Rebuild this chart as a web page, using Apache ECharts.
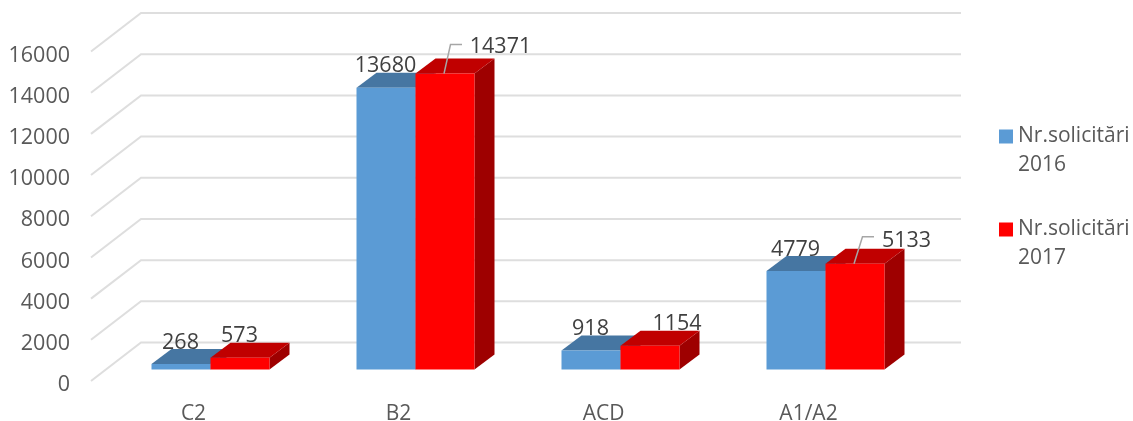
<!DOCTYPE html>
<html>
<head>
<meta charset="utf-8">
<style>html,body{margin:0;padding:0;background:#fff}#c{width:1133px;height:421px}</style>
<script src="https://cdn.jsdelivr.net/npm/echarts@6/dist/echarts.min.js"></script>
</head>
<body>
<div id="c"></div>
<script>
const categories = ['C2', 'B2', 'ACD', 'A1/A2'];
const values2016 = [268, 13680, 918, 4779];
const values2017 = [573, 14371, 1154, 5133];
const yTicks = [0, 2000, 4000, 6000, 8000, 10000, 12000, 14000, 16000];
const seriesNames = ['Nr.solicitări\n2016', 'Nr.solicitări\n2017'];

// label placement relative to the default spot above each bar
const labelShift2017 = [
  {dx: 0, dy: 0},
  {dx: 56, dy: -5, leader: {elbowDx: 6.5, elbowY: -29, endDx: 18}},
  {dx: 27.5, dy: 0},
  {dx: 52, dy: -1.5, leader: {elbowDx: 8.5, elbowY: -27, endDx: 20}}
];
const labelShift2016 = [{dx: 0, dy: 0}, {dx: 0, dy: 0}, {dx: 0, dy: 0}, {dx: 0, dy: 0}];

const WALL = {dx: 50, dy: -38.5};
const BAR_PLANE = {dx: 17, dy: -11.5};
const DEPTH = {dx: 20, dy: -15};
const BAR_WIDTH_RATIO = 59 / 205;

function gridItem(params, api) {
  const cs = params.coordSys;
  const p = api.coord([0, api.value(1)]);
  const x0 = cs.x, y0 = p[1];
  return {
    type: 'polyline',
    silent: true,
    shape: {points: [[x0, y0], [x0 + WALL.dx, y0 + WALL.dy], [x0 + WALL.dx + cs.width, y0 + WALL.dy]]},
    style: {stroke: '#dedede', lineWidth: 2, fill: null}
  };
}

function barItem(side, colors, shifts) {
  return function (params, api) {
    const i = api.value(0), v = api.value(1);
    const top = api.coord([i, v]), base = api.coord([i, 0]);
    const w = api.size([1, 0])[0] * BAR_WIDTH_RATIO;
    const split = top[0] + BAR_PLANE.dx;
    const x0 = side < 0 ? split - w : split;
    const x1 = x0 + w;
    const yT = top[1] + BAR_PLANE.dy, yB = base[1] + BAR_PLANE.dy;
    const d = DEPTH;
    const cx = (x0 + x1) / 2;
    const shift = shifts[params.dataIndex];
    const lx = cx - 0.5 + shift.dx, ly = yT + d.dy - 6.5 + shift.dy;
    const children = [
      {type: 'polygon', shape: {points: [[x1, yT], [x1 + d.dx, yT + d.dy], [x1 + d.dx, yB + d.dy], [x1, yB]]}, style: {fill: colors.side}},
      {type: 'polygon', shape: {points: [[x0, yT], [x0 + d.dx, yT + d.dy], [x1 + d.dx, yT + d.dy], [x1, yT]]}, style: {fill: colors.top}},
      {type: 'rect', shape: {x: x0, y: yT, width: w, height: yB - yT}, style: {fill: colors.front}},
      {type: 'text', z2: 100, style: {text: String(v), x: lx, y: ly, align: 'center', verticalAlign: 'middle',
        fill: '#404040', font: '21.5px "Open Sans"'}}
    ];
    if (shift.leader) {
      const l = shift.leader;
      children.push({type: 'polyline', z2: 90,
        shape: {points: [[cx - 1, yT], [cx - 1 + l.elbowDx, yT + l.elbowY], [cx - 1 + l.endDx, yT + l.elbowY]]},
        style: {stroke: '#a6a6a6', lineWidth: 1.5, fill: null}});
    }
    return {type: 'group', silent: true, children};
  };
}

const chart = echarts.init(document.getElementById('c'), null, {renderer: 'canvas'});
chart.setOption({
  animation: false,
  backgroundColor: '#ffffff',
  grid: {left: 91, right: 222, top: 51.5, bottom: 40, outerBoundsMode: 'none'},
  xAxis: {
    type: 'category', data: categories,
    axisLine: {show: false}, axisTick: {show: false}, splitLine: {show: false},
    axisLabel: {margin: 23, color: '#595959', fontFamily: 'Open Sans', fontSize: 21}
  },
  yAxis: {
    type: 'value', min: 0, max: 16000, interval: 2000,
    axisLine: {show: false}, axisTick: {show: false}, splitLine: {show: false},
    axisLabel: {margin: 21, color: '#595959', fontFamily: 'Open Sans', fontSize: 21.5,
      verticalAlign: 'top', lineHeight: 8, formatter: v => String(v)}
  },
  legend: {
    orient: 'vertical', left: 999, top: 93, padding: 0,
    data: seriesNames, icon: 'rect', itemWidth: 14, itemHeight: 14, itemGap: 6,
    selectedMode: false, align: 'left',
    formatter: n => ' \n' + n,
    textStyle: {color: '#595959', fontFamily: 'Open Sans', fontSize: 21, lineHeight: 29}
  },
  series: [
    {type: 'custom', name: 'grid', z: 1, silent: true, clip: false,
      data: yTicks.map(t => [0, t]), encode: {x: 0, y: 1}, renderItem: gridItem},
    {type: 'custom', name: seriesNames[0], z: 2, clip: false, silent: true,
      itemStyle: {color: '#5B9BD5'},
      data: values2016.map((v, i) => [i, v]), encode: {x: 0, y: 1},
      renderItem: barItem(-1, {front: '#5B9BD5', top: '#4676A2', side: '#3A6690'}, labelShift2016)},
    {type: 'custom', name: seriesNames[1], z: 3, clip: false, silent: true,
      itemStyle: {color: '#FF0000'},
      data: values2017.map((v, i) => [i, v]), encode: {x: 0, y: 1},
      renderItem: barItem(1, {front: '#FF0000', top: '#C00000', side: '#9E0000'}, labelShift2017)}
  ]
});
</script>
</body>
</html>
